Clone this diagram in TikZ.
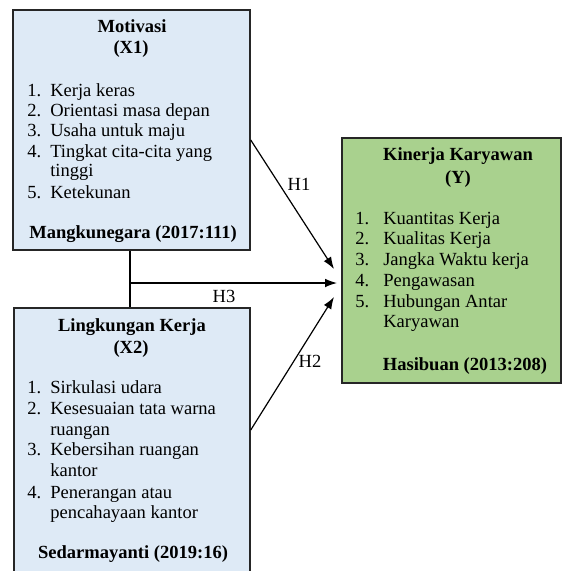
\documentclass[tikz,border=0pt]{standalone}
\usepackage{fontspec}
\setmainfont{Liberation Serif}
\usetikzlibrary{arrows.meta,fit}
\definecolor{boxblue}{HTML}{DEEAF6}
\definecolor{boxgreen}{HTML}{A9D18E}
\definecolor{edge}{HTML}{262626}
\tikzset{
  box/.style={draw=edge, line width=1.1pt, inner sep=0pt},
  txt/.style={inner sep=0pt, yshift=-1.6pt, font=\fontsize{13.9}{16}\selectfont, anchor=mid west},
  ttl/.style={inner sep=0pt, yshift=-1.6pt, font=\fontsize{13.9}{16}\selectfont\bfseries, anchor=mid},
  conn/.style={draw=black, line width=0.9pt},
  arr/.style={conn, -{Latex[length=9pt,width=6.5pt]}},
  lbl/.style={inner sep=0pt, yshift=-1.6pt, font=\fontsize{13.9}{16}\selectfont, anchor=mid}
}
\begin{document}
\begin{tikzpicture}[x=0.75pt,y=-0.75pt]
\clip (0,0) rectangle (563,571);
\fill[white] (0,0) rectangle (563,571);
% corners
\coordinate (a1) at (13,10);   \coordinate (b1) at (250,250);
\coordinate (a2) at (14,308);  \coordinate (b2) at (250,590);
\coordinate (a3) at (342,138); \coordinate (b3) at (561,383);
\node[box, fill=boxblue, fit=(a1)(b1)] (x1) {};
\node[box, fill=boxblue, fit=(a2)(b2)] (x2) {};
\node[box, fill=boxgreen, fit=(a3)(b3)] (y) {};
% X1 text
\node[ttl] (x1t1) at (132,27) {Motivasi};
\node[ttl] (x1t2) at (131,48) {(X1)};
\node[txt] (x1n1) at (27,91) {1.};  \node[txt] (x1i1) at (50,91) {Kerja keras};
\node[txt] (x1n2) at (27,111) {2.}; \node[txt] (x1i2) at (50,111) {Orientasi masa depan};
\node[txt] (x1n3) at (27,131) {3.}; \node[txt] (x1i3) at (50,131) {Usaha untuk maju};
\node[txt] (x1n4) at (27,152) {4.}; \node[txt] (x1i4) at (50,152) {Tingkat cita-cita yang};
\node[txt] (x1i4b) at (50,171) {tinggi};
\node[txt] (x1n5) at (27,193) {5.}; \node[txt] (x1i5) at (50,193) {Ketekunan};
\node[ttl] (x1s) at (133,233) {Mangkunegara (2017:111)};
% X2 text
\node[ttl] (x2t1) at (132,326) {Lingkungan Kerja};
\node[ttl] (x2t2) at (131,348) {(X2)};
\node[txt] (x2n1) at (27,388) {1.}; \node[txt] (x2i1) at (50,388) {Sirkulasi udara};
\node[txt] (x2n2) at (27,409) {2.}; \node[txt] (x2i2) at (50,409) {Kesesuaian tata warna};
\node[txt] (x2i2b) at (50,430) {ruangan};
\node[txt] (x2n3) at (27,450) {3.}; \node[txt] (x2i3) at (50,450) {Kebersihan ruangan};
\node[txt] (x2i3b) at (50,471) {kantor};
\node[txt] (x2n4) at (27,493) {4.}; \node[txt] (x2i4) at (50,493) {Penerangan atau};
\node[txt] (x2i4b) at (50,513) {pencahayaan kantor};
\node[ttl] (x2s) at (133,553) {Sedarmayanti (2019:16)};
% Y text
\node[ttl] (yt1) at (458,155) {Kinerja Karyawan};
\node[ttl] (yt2) at (458,178) {(Y)};
\node[txt] (yn1) at (355,219) {1.}; \node[txt] (yi1) at (383,219) {Kuantitas Kerja};
\node[txt] (yn2) at (355,239) {2.}; \node[txt] (yi2) at (383,239) {Kualitas Kerja};
\node[txt] (yn3) at (355,260) {3.}; \node[txt] (yi3) at (383,260) {Jangka Waktu kerja};
\node[txt] (yn4) at (355,281) {4.}; \node[txt] (yi4) at (383,281) {Pengawasan};
\node[txt] (yn5) at (355,302) {5.}; \node[txt] (yi5) at (383,302) {Hubungan Antar};
\node[txt] (yi5b) at (383,322) {Karyawan};
\node[ttl] (ys) at (465,365) {Hasibuan (2013:208)};
% connectors
\coordinate (t1) at (334,269);
\coordinate (t3) at (337,283);
\coordinate (t2) at (334,297);
\coordinate (j) at (130,283);
\draw[arr] ([yshift=-7.5pt]x1.east) -- (t1);
\draw[arr] (x2.east |- 0,430) -- (t2);
\draw[conn] (x1.south -| j) -- (x2.north -| j);
\draw[arr] (j) -- (t3);
\node[lbl] (h1) at (299,185) {H1};
\node[lbl] (h2) at (310,362) {H2};
\node[lbl] (h3) at (224,297) {H3};
\end{tikzpicture}
\end{document}
